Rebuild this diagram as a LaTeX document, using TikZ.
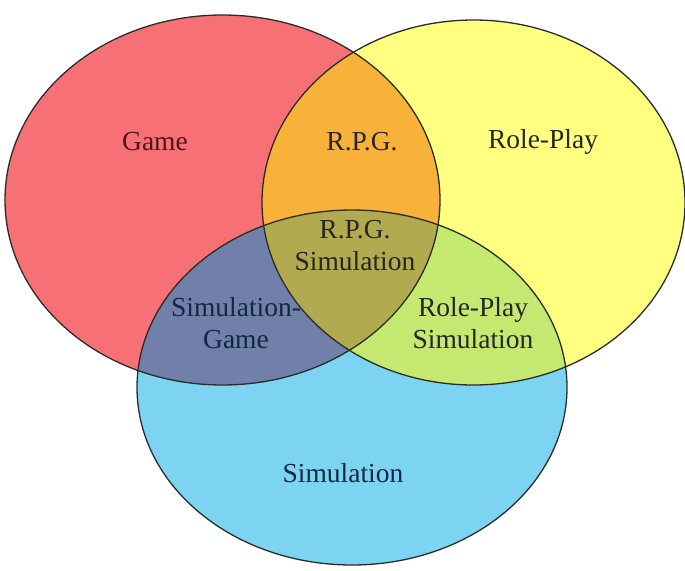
\documentclass[tikz,border=0pt]{standalone}
\usepackage{fontspec}
\setmainfont{Liberation Serif}
\definecolor{cred}{RGB}{246,112,118}
\definecolor{cyel}{RGB}{255,255,128}
\definecolor{cblu}{RGB}{124,212,242}
\definecolor{cry}{RGB}{248,178,58}
\definecolor{crb}{RGB}{112,128,168}
\definecolor{cyb}{RGB}{196,232,112}
\definecolor{call}{RGB}{178,170,78}
\definecolor{cline}{RGB}{40,45,40}
\definecolor{tgame}{RGB}{80,20,28}
\definecolor{tsim}{RGB}{18,38,70}
\tikzset{
  lbl/.style={font=\fontsize{27.5}{32}\selectfont, align=center, text=black!85},
  outl/.style={draw=cline, line width=1.3pt}
}
\def\RedE{(222.5,200) ellipse [x radius=217.5, y radius=185]}
\def\YelE{(473.5,202.5) ellipse [x radius=211.5, y radius=182.5]}
\def\BluE{(352,387.5) ellipse [x radius=215, y radius=177.5]}
\begin{document}
\begin{tikzpicture}[x=1pt,y=-1pt]
\useasboundingbox[fill=white] (0,0) rectangle (685,570);
\fill[cred] \RedE;
\fill[cyel] \YelE;
\fill[cblu] \BluE;
\begin{scope}
  \clip \RedE;
  \fill[cry] \YelE;
  \fill[crb] \BluE;
\end{scope}
\begin{scope}
  \clip \YelE;
  \fill[cyb] \BluE;
\end{scope}
\begin{scope}
  \clip \RedE;
  \clip \YelE;
  \fill[call] \BluE;
\end{scope}
\draw[outl] \RedE;
\draw[outl] \YelE;
\draw[outl] \BluE;
\node[lbl, text=tgame] (game) at (155,142) {Game};
\node[lbl] (rpg) at (362,142) {R.P.G.};
\node[lbl] (rp) at (543,142) {Role-Play};
\node[lbl] (rpgs) at (355,246) {R.P.G.\\Simulation};
\node[lbl, text=tsim] (sg) at (236,323) {Simulation-\\Game};
\node[lbl] (rps) at (473,323) {Role-Play\\Simulation};
\node[lbl, text=tsim] (sim) at (343,473) {Simulation};
\end{tikzpicture}
\end{document}
